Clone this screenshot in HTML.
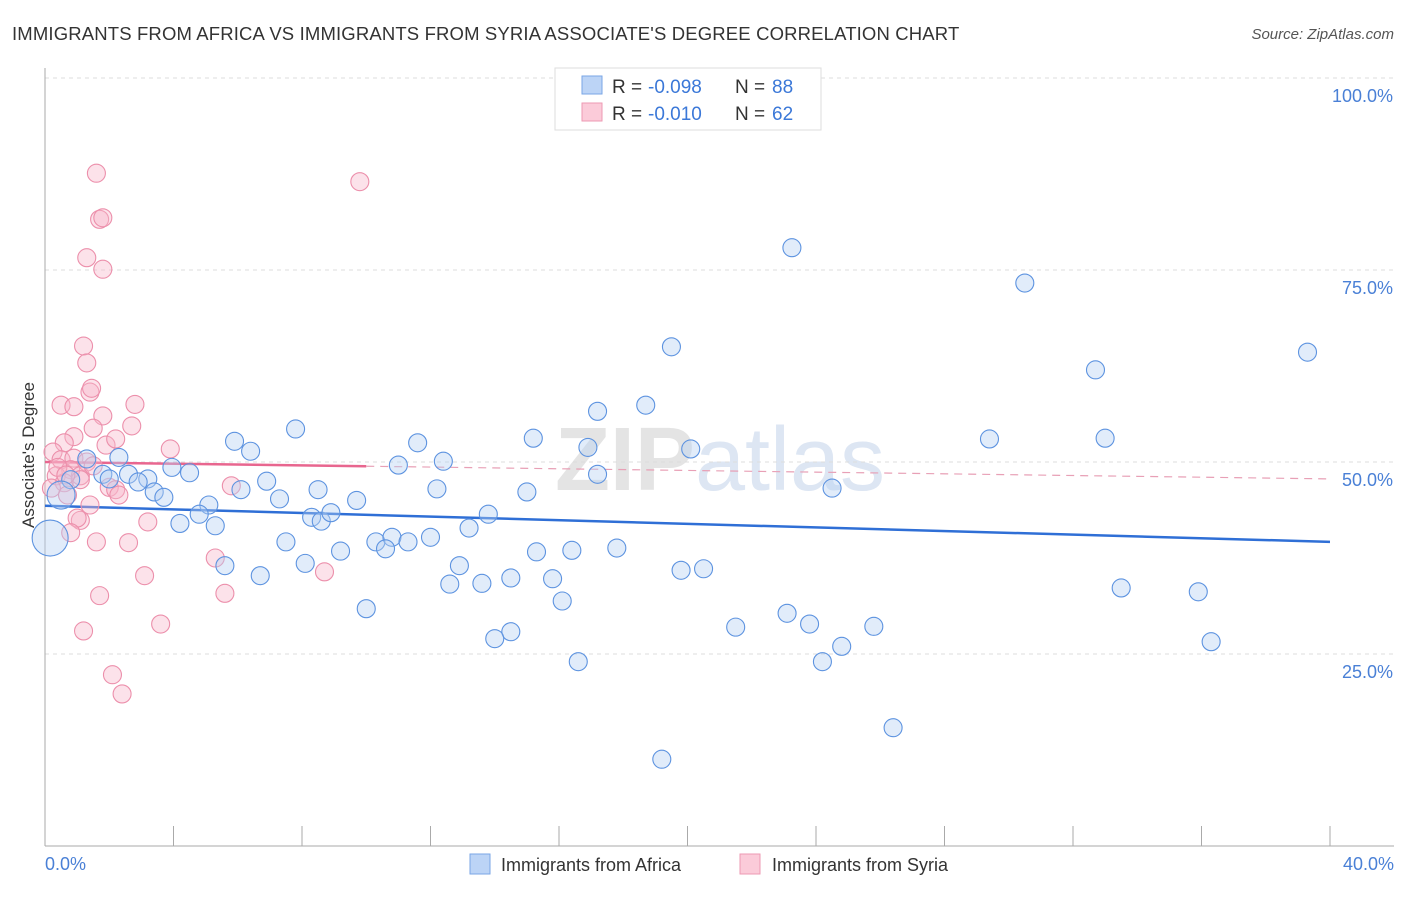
<!DOCTYPE html>
<html><head><meta charset="utf-8"><style>
body{margin:0;background:#fff;font-family:"Liberation Sans",sans-serif;}
svg text{font-family:"Liberation Sans",sans-serif;}
</style></head><body>
<svg id="chart" width="1406" height="892">
<text x="12" y="40" font-size="18.5" letter-spacing="0.15" fill="#333">IMMIGRANTS FROM AFRICA VS IMMIGRANTS FROM SYRIA ASSOCIATE'S DEGREE CORRELATION CHART</text>
<text x="1394" y="39" font-size="15" fill="#555" font-style="italic" text-anchor="end">Source: ZipAtlas.com</text>
<text x="720" y="490" font-size="90" fill="#e4e4e4" text-anchor="middle" font-weight="bold">ZIP<tspan font-weight="normal" fill="#dde6f3">atlas</tspan></text>
<g id="grid"></g><g id="axes"></g><g id="lines"></g><g id="pts"></g>
<text transform="translate(34,455) rotate(-90)" font-size="17" fill="#333" text-anchor="middle">Associate's Degree</text>
<g>
<rect x="555" y="68" width="266" height="62" fill="#fff" stroke="#ddd"/>
<rect x="582" y="76" width="20" height="18" fill="#bcd4f6" stroke="#7aa6e6"/>
<text x="612" y="93" font-size="19" fill="#333">R =</text>
<text x="648" y="93" font-size="19" fill="#3b78d8">-0.098</text>
<text x="735" y="93" font-size="19" fill="#333">N =</text>
<text x="772" y="93" font-size="19" fill="#3b78d8">88</text>
<rect x="582" y="103" width="20" height="18" fill="#fbcbd9" stroke="#ee9ab3"/>
<text x="612" y="120" font-size="19" fill="#333">R =</text>
<text x="648" y="120" font-size="19" fill="#3b78d8">-0.010</text>
<text x="735" y="120" font-size="19" fill="#333">N =</text>
<text x="772" y="120" font-size="19" fill="#3b78d8">62</text>
</g>
<g>
<rect x="470" y="854" width="20" height="20" fill="#bcd4f6" stroke="#7aa6e6"/>
<text x="501" y="871" font-size="18" fill="#333">Immigrants from Africa</text>
<rect x="740" y="854" width="20" height="20" fill="#fbcbd9" stroke="#ee9ab3"/>
<text x="772" y="871" font-size="18" fill="#333">Immigrants from Syria</text>
</g>
</svg>
<script>
const africaX=[23.25,30.5,39.3,19.5,32.7,18.7,17.2,15.2,16.9,29.4,33.0,20.1,7.8,5.9,6.4,11.6,12.4,11.0,17.2,24.5,2.3,1.3,1.8,2.6,3.2,2.9,2.0,3.95,4.5,0.8,0.5,3.4,3.7,6.1,6.9,7.3,8.5,9.7,12.2,15.0,5.1,4.8,4.2,5.3,8.3,8.6,8.9,13.8,13.2,7.5,9.2,10.3,10.8,10.6,11.3,12.0,15.3,16.4,17.8,5.6,6.7,8.1,12.9,12.6,13.6,14.5,15.8,19.8,20.5,10.0,16.1,33.5,35.9,23.1,23.8,21.5,25.8,14.5,14.0,24.8,24.2,16.6,36.3,26.4,19.2,0.16];
const africaY=[77.9,73.3,64.3,65.0,62.0,57.4,56.6,53.1,51.9,53.0,53.1,51.7,54.3,52.7,51.4,52.5,50.1,49.6,48.4,46.6,50.6,50.4,48.4,48.4,47.8,47.4,47.8,49.3,48.6,47.7,45.7,46.1,45.4,46.4,47.5,45.2,46.4,45.0,46.5,46.1,44.4,43.2,42.0,41.7,42.8,42.3,43.4,43.2,41.4,39.6,38.4,39.6,40.2,38.7,39.6,40.2,38.3,38.5,38.8,36.5,35.2,36.8,36.5,34.1,34.2,34.9,34.8,35.9,36.1,30.9,31.9,33.6,33.1,30.3,28.9,28.5,28.6,27.9,27.0,26.0,24.0,24.0,26.6,15.4,11.3,40.1];
const africaR=[9,9,9,9,9,9,9,9,9,9,9,9,9,9,9,9,9,9,9,9,9,9,9,9,9,9,9,9,9,9,14,9,9,9,9,9,9,9,9,9,9,9,9,9,9,9,9,9,9,9,9,9,9,9,9,9,9,9,9,9,9,9,9,9,9,9,9,9,9,9,9,9,9,9,9,9,9,9,9,9,9,9,9,9,9,18];
const syriaX=[1.6,9.8,1.7,1.8,1.3,1.8,1.2,1.3,1.4,1.45,0.5,0.9,2.8,1.8,2.7,1.5,0.9,0.6,1.9,2.2,3.9,0.25,0.5,0.9,1.3,0.8,0.35,1.1,1.5,0.6,0.2,1.1,2.0,2.2,0.7,5.8,1.4,1.1,1.0,3.2,0.8,1.6,2.6,5.3,8.7,3.1,1.7,5.6,3.6,1.2,2.1,2.4,0.4,0.65,2.3];
const syriaY=[87.6,86.5,81.6,81.8,76.6,75.1,65.1,62.9,59.1,59.6,57.4,57.2,57.5,56.0,54.7,54.4,53.3,52.5,52.2,53.0,51.7,51.3,50.3,50.5,50.0,49.0,48.2,48.2,49.5,47.3,46.6,47.7,46.7,46.4,45.7,46.9,44.4,42.4,42.7,42.2,40.8,39.6,39.5,37.5,35.7,35.2,32.6,32.9,28.9,28.0,22.3,19.8,49.3,48.3,45.7];
const yTicks=[25,50,75,100];
const yTickLabels=["25.0%","50.0%","75.0%","100.0%"];
const xTickLabels=["0.0%","40.0%"];
const africaTrend=[44.3,39.6];
const syriaTrend=[50.0,47.8];
const sx=v=>45+v/40*1285, sy=v=>846-v/100*768;
const NS="http://www.w3.org/2000/svg";
function mk(p,t,a){const e=document.createElementNS(NS,t);for(const k in a)e.setAttribute(k,a[k]);document.getElementById(p).appendChild(e);return e;}
yTicks.forEach((t,i)=>{
 const g=mk('grid','line',{x1:45,x2:1394,y1:sy(t),y2:sy(t),stroke:'#ddd','stroke-dasharray':'4,4'});
 
 
 const tx=mk('axes','text',{x:1393,y:sy(t)+24,'font-size':18,fill:'#4a80d6','text-anchor':'end'});
 tx.textContent=yTickLabels[i];
 
 
});
const ax=mk('axes','line',{x1:45,x2:45,y1:68,y2:846,stroke:'#aaa'});


const bx=mk('axes','line',{x1:45,x2:1394,y1:846,y2:846,stroke:'#aaa'});


for(let i=0;i<=10;i++){const t=mk('axes','line',{x1:sx(i*4),x2:sx(i*4),y1:826,y2:846,stroke:'#aaa'});
 
 }
[[0,'start',45],[40,'end',1394]].forEach((d,i)=>{const t=mk('axes','text',{x:d[2],y:870,'font-size':18,fill:'#4a80d6','text-anchor':d[1]});t.textContent=xTickLabels[i];
 
 });
function pts(X,Y,R,fill,stroke,name){X.forEach((x,i)=>{const c=mk('pts','circle',{cx:sx(x),cy:sy(Y[i]),r:R?R[i]:9,fill:fill,'fill-opacity':0.4,stroke:stroke,'stroke-width':1.1});
 
 });}
pts(syriaX,syriaY,null,'#f7b6ca','#ec8fab','syria-point');
pts(africaX,africaY,africaR,'#b5cff3','#5d93e0','africa-point');
const l1=mk('lines','line',{x1:sx(0),y1:sy(africaTrend[0]),x2:sx(40),y2:sy(africaTrend[1]),stroke:'#2f6fd6','stroke-width':2.5});


const f=10/40, sm=syriaTrend[0]+(syriaTrend[1]-syriaTrend[0])*f;
const l2=mk('lines','line',{x1:sx(0),y1:sy(syriaTrend[0]),x2:sx(10),y2:sy(sm),stroke:'#e8668f','stroke-width':2.5});


const l3=mk('lines','line',{x1:sx(10),y1:sy(sm),x2:sx(40),y2:sy(syriaTrend[1]),stroke:'#e8a0b6','stroke-width':1.2,'stroke-dasharray':'8,6'});


</script>
</body></html>
